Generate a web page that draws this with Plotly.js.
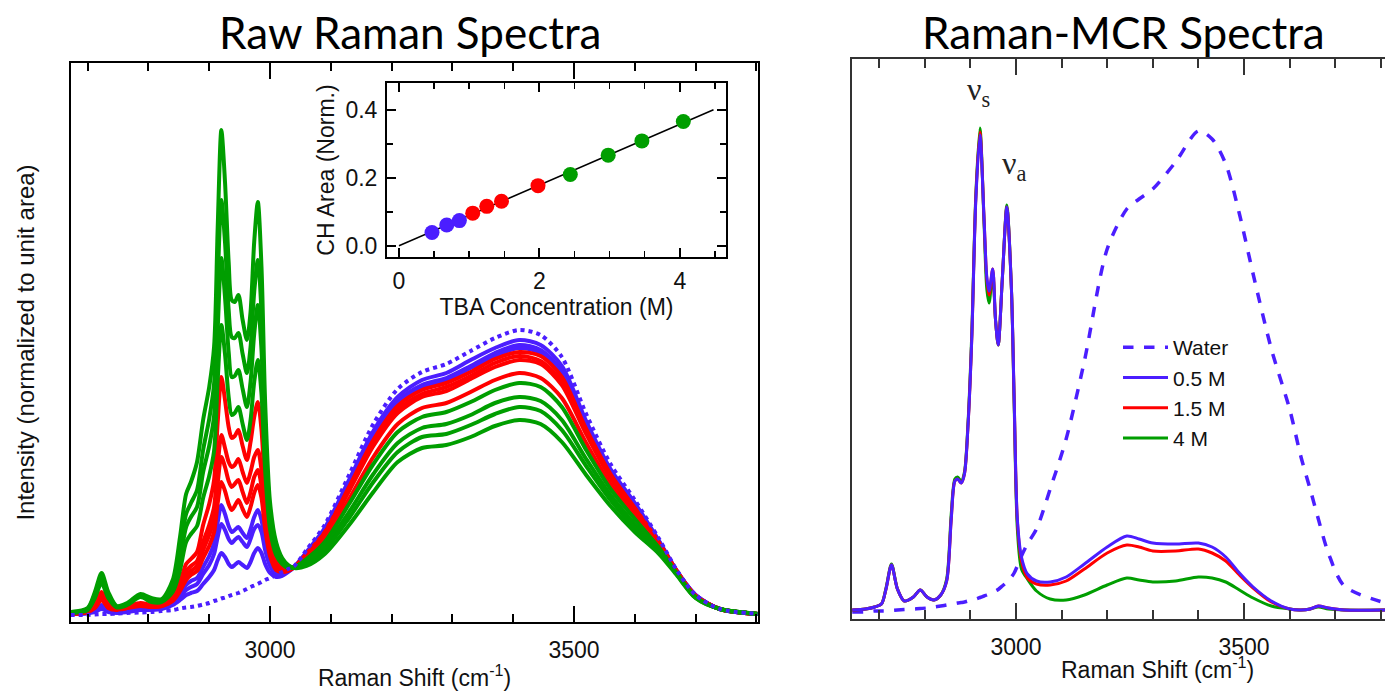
<!DOCTYPE html>
<html><head><meta charset="utf-8">
<script src="https://cdn.plot.ly/plotly-3.0.1.min.js"></script>
<style>html,body{margin:0;padding:0;background:#fff;}#chart{width:1385px;height:694px;}</style>
</head><body><div id="chart"></div>
<script>
// ---------- Left panel: raw Raman spectra (Raman shift, cm-1) ----------
const rawShift = [2672,2700,2712,2723,2734,2748,2765,2787,2805,2822,2840,2852,2862,2870,2880,2890,2900,2908,2914,2920,2926,2932,2937,2942,2948,2955,2962,2968,2974,2980,2986,2992,3000,3010,3020,3030,3040,3060,3090,3130,3170,3210,3250,3290,3330,3370,3410,3445,3480,3520,3560,3600,3640,3670,3700,3740,3805];
const rawWater = [0.07,0.07,0.075,0.08,0.08,0.085,0.09,0.095,0.10,0.11,0.12,0.135,0.145,0.15,0.16,0.175,0.19,0.21,0.22,0.235,0.245,0.26,0.27,0.28,0.29,0.31,0.33,0.35,0.365,0.38,0.40,0.42,0.44,0.47,0.50,0.53,0.56,0.72,0.97,1.47,1.98,2.33,2.50,2.58,2.71,2.84,2.92,2.87,2.65,2.08,1.58,1.22,0.83,0.51,0.27,0.13,0.08];
const rawB1 = [0.08,0.09,0.10,0.13,0.10,0.09,0.10,0.12,0.12,0.13,0.17,0.22,0.27,0.29,0.31,0.38,0.45,0.52,0.62,0.69,0.65,0.58,0.55,0.57,0.60,0.57,0.54,0.60,0.69,0.74,0.69,0.58,0.49,0.45,0.46,0.50,0.55,0.70,0.94,1.42,1.91,2.25,2.42,2.49,2.62,2.74,2.82,2.77,2.56,2.01,1.53,1.19,0.81,0.50,0.27,0.13,0.08];
const rawB2 = [0.08,0.09,0.11,0.15,0.11,0.10,0.11,0.13,0.13,0.14,0.18,0.25,0.32,0.35,0.38,0.48,0.57,0.68,0.85,0.98,0.92,0.83,0.79,0.82,0.85,0.80,0.75,0.83,0.93,0.97,0.90,0.72,0.56,0.47,0.47,0.51,0.55,0.69,0.92,1.39,1.86,2.21,2.37,2.44,2.56,2.69,2.77,2.72,2.51,1.98,1.51,1.17,0.80,0.50,0.27,0.13,0.08];
const rawB3 = [0.08,0.09,0.12,0.17,0.12,0.11,0.12,0.14,0.13,0.14,0.19,0.28,0.37,0.41,0.44,0.55,0.66,0.79,1.00,1.17,1.08,0.96,0.90,0.92,0.95,0.89,0.84,0.93,1.05,1.12,1.02,0.80,0.60,0.49,0.48,0.51,0.55,0.69,0.91,1.37,1.84,2.18,2.35,2.42,2.54,2.66,2.74,2.69,2.48,1.96,1.50,1.16,0.80,0.50,0.26,0.13,0.08];
const rawR1 = [0.08,0.10,0.14,0.22,0.14,0.12,0.14,0.16,0.15,0.16,0.21,0.31,0.42,0.47,0.51,0.64,0.76,0.90,1.19,1.40,1.31,1.18,1.12,1.16,1.22,1.13,1.05,1.15,1.29,1.37,1.24,0.93,0.66,0.52,0.50,0.51,0.55,0.68,0.90,1.35,1.82,2.16,2.32,2.39,2.50,2.63,2.70,2.66,2.45,1.93,1.48,1.14,0.79,0.50,0.26,0.13,0.08];
const rawR2 = [0.08,0.10,0.15,0.25,0.15,0.12,0.14,0.17,0.15,0.16,0.22,0.33,0.46,0.51,0.56,0.72,0.87,1.03,1.39,1.65,1.55,1.41,1.35,1.38,1.42,1.30,1.19,1.30,1.45,1.52,1.36,1.00,0.70,0.55,0.51,0.52,0.55,0.67,0.89,1.33,1.78,2.12,2.28,2.35,2.46,2.59,2.66,2.61,2.40,1.90,1.46,1.13,0.79,0.50,0.26,0.13,0.08];
const rawR3 = [0.08,0.10,0.16,0.27,0.16,0.13,0.15,0.18,0.16,0.17,0.23,0.36,0.51,0.56,0.61,0.80,0.97,1.15,1.56,1.87,1.74,1.60,1.55,1.57,1.63,1.50,1.39,1.50,1.65,1.72,1.52,1.10,0.75,0.57,0.52,0.52,0.55,0.67,0.87,1.31,1.76,2.09,2.25,2.31,2.43,2.55,2.62,2.58,2.37,1.88,1.44,1.11,0.78,0.49,0.26,0.13,0.08];
const rawR4 = [0.09,0.11,0.19,0.30,0.19,0.14,0.16,0.19,0.17,0.18,0.25,0.40,0.58,0.63,0.70,0.97,1.18,1.42,2.00,2.45,2.22,1.95,1.84,1.86,1.92,1.76,1.62,1.80,2.05,2.20,1.92,1.32,0.85,0.62,0.55,0.53,0.55,0.64,0.83,1.23,1.65,1.98,2.14,2.19,2.30,2.42,2.49,2.44,2.24,1.79,1.38,1.07,0.76,0.49,0.26,0.13,0.08];
const rawG1 = [0.09,0.12,0.24,0.39,0.24,0.145,0.17,0.25,0.20,0.20,0.30,0.52,0.80,0.88,0.96,1.24,1.46,1.71,2.42,2.97,2.68,2.25,2.07,2.09,2.15,1.98,1.82,2.02,2.40,2.62,2.28,1.52,0.93,0.67,0.58,0.54,0.55,0.63,0.80,1.18,1.58,1.90,2.05,2.10,2.20,2.32,2.39,2.35,2.15,1.72,1.33,1.03,0.74,0.48,0.25,0.13,0.08];
const rawG2 = [0.09,0.13,0.26,0.43,0.26,0.15,0.18,0.26,0.21,0.21,0.34,0.63,0.95,1.05,1.15,1.50,1.76,2.06,2.93,3.64,3.25,2.70,2.45,2.46,2.52,2.33,2.15,2.40,2.88,3.17,2.72,1.75,1.02,0.71,0.60,0.55,0.54,0.60,0.76,1.10,1.48,1.79,1.94,1.98,2.07,2.19,2.25,2.21,2.02,1.63,1.27,0.98,0.72,0.47,0.25,0.13,0.08];
const rawG3 = [0.10,0.13,0.28,0.46,0.28,0.155,0.18,0.27,0.22,0.22,0.38,0.72,1.08,1.19,1.32,1.72,2.03,2.38,3.40,4.22,3.80,3.12,2.85,2.84,2.89,2.68,2.49,2.75,3.30,3.62,3.10,1.95,1.10,0.75,0.62,0.56,0.54,0.58,0.72,1.04,1.40,1.70,1.85,1.88,1.97,2.08,2.15,2.11,1.92,1.56,1.22,0.94,0.70,0.47,0.24,0.13,0.08];
const rawG4 = [0.10,0.14,0.30,0.49,0.30,0.16,0.19,0.28,0.24,0.23,0.42,0.85,1.28,1.40,1.60,2.02,2.35,2.75,3.95,4.92,4.40,3.60,3.22,3.20,3.27,3.02,2.82,3.10,3.80,4.20,3.55,2.20,1.20,0.80,0.64,0.57,0.54,0.56,0.68,0.97,1.30,1.60,1.74,1.77,1.85,1.96,2.02,1.98,1.80,1.47,1.16,0.90,0.68,0.46,0.24,0.13,0.08];

// ---------- Inset: CH area vs TBA concentration ----------
const tbaConc = [0.47,0.68,0.86,1.05,1.25,1.46,1.98,2.44,2.98,3.46,4.05];
const chArea  = [0.039,0.061,0.074,0.096,0.116,0.131,0.177,0.210,0.267,0.309,0.366];
const chGroup = ['b','b','b','r','r','r','r','g','g','g','g'];
const fitConc = [0,4.48];
const fitArea = [0,0.401];

// ---------- Right panel: Raman-MCR spectra ----------
const mcrShift = [2641,2670,2690,2705,2715,2727,2740,2755,2775,2790,2805,2820,2835,2848,2858,2866,2872,2880,2887,2895,2903,2912,2921,2930,2936,2941,2949,2955,2961,2970,2980,2990,2996,3003,3012,3025,3045,3075,3110,3150,3200,3243,3270,3300,3350,3400,3430,3460,3490,3520,3560,3600,3625,3645,3663,3685,3720,3810];
const mcrWater = [0.07,0.07,0.08,0.08,0.08,0.085,0.09,0.095,0.10,0.105,0.11,0.12,0.13,0.14,0.15,0.155,0.16,0.165,0.17,0.18,0.19,0.20,0.215,0.23,0.24,0.25,0.265,0.28,0.295,0.33,0.37,0.42,0.46,0.53,0.63,0.75,0.90,1.30,1.80,2.58,3.70,4.10,4.20,4.30,4.57,4.88,4.80,4.55,4.05,3.45,2.70,2.10,1.62,1.30,1.00,0.66,0.33,0.16];
const mcr05 = [0.09,0.10,0.12,0.15,0.30,0.54,0.30,0.18,0.22,0.29,0.22,0.19,0.24,0.38,1.00,1.38,1.40,1.36,1.45,1.95,2.80,4.20,4.84,4.00,3.42,3.28,3.50,3.00,2.74,3.40,4.12,3.30,2.20,1.00,0.62,0.45,0.38,0.37,0.42,0.55,0.72,0.83,0.80,0.76,0.75,0.76,0.72,0.62,0.46,0.32,0.18,0.10,0.09,0.10,0.13,0.11,0.09,0.09];
const mcr15 = [0.09,0.10,0.12,0.15,0.30,0.54,0.30,0.18,0.22,0.29,0.22,0.19,0.24,0.38,1.00,1.38,1.40,1.36,1.45,1.95,2.80,4.22,4.87,4.00,3.40,3.24,3.50,3.00,2.74,3.40,4.12,3.30,2.20,0.98,0.58,0.41,0.35,0.34,0.38,0.50,0.66,0.74,0.72,0.68,0.68,0.70,0.66,0.58,0.44,0.31,0.17,0.10,0.09,0.10,0.13,0.11,0.09,0.09];
const mcr4  = [0.09,0.10,0.12,0.15,0.31,0.55,0.30,0.18,0.22,0.29,0.22,0.19,0.24,0.40,1.05,1.40,1.42,1.38,1.47,1.98,2.85,4.25,4.91,3.95,3.30,3.16,3.45,3.00,2.74,3.40,4.14,3.30,2.15,0.90,0.50,0.40,0.28,0.20,0.19,0.24,0.34,0.41,0.39,0.37,0.38,0.42,0.41,0.37,0.29,0.21,0.13,0.10,0.09,0.10,0.12,0.10,0.09,0.09];
const mcrNames = ['Water','0.5 M','1.5 M','4 M'];

const xTickVals = [3000,3500];

// sanity check on array lengths
[rawWater,rawB1,rawB2,rawB3,rawR1,rawR2,rawR3,rawR4,rawG1,rawG2,rawG3,rawG4].forEach((a,i)=>{ if(a.length!==rawShift.length) throw new Error('raw series '+i+' length '+a.length); });
[mcrWater,mcr05,mcr15,mcr4].forEach((a,i)=>{ if(a.length!==mcrShift.length) throw new Error('mcr series '+i+' length '+a.length); });

const BLUE = '#4B1EFF', RED = '#FF0000', GREEN = '#009E00';
const FONT = 'Liberation Sans, Arial, sans-serif';
const W = 1385, H = 694;
const px = v => v / W, py = v => (H - v) / H;

const traces = [];
function rawTrace(y, color, opts) {
  return Object.assign({ x: rawShift, y: y, type: 'scatter', mode: 'lines', xaxis: 'x', yaxis: 'y',
    line: { color: color, width: 4, shape: 'spline', smoothing: 0.8 }, showlegend: false, hoverinfo: 'skip' }, opts || {});
}
[rawB1, rawB2, rawB3].forEach(s => traces.push(rawTrace(s, BLUE)));
[rawR1, rawR2, rawR3, rawR4].forEach(s => traces.push(rawTrace(s, RED)));
[rawG1, rawG2, rawG3, rawG4].forEach(s => traces.push(rawTrace(s, GREEN)));
traces.push(rawTrace(rawWater, BLUE, { line: { color: BLUE, width: 4, dash: 'dot', shape: 'spline', smoothing: 0.8 } }));

// inset
traces.push({ x: fitConc, y: fitArea, type: 'scatter', mode: 'lines', xaxis: 'x2', yaxis: 'y2',
  line: { color: '#000', width: 1.5 }, showlegend: false, hoverinfo: 'skip' });
const groupColor = { b: BLUE, r: RED, g: GREEN };
traces.push({ x: tbaConc, y: chArea, type: 'scatter', mode: 'markers', xaxis: 'x2', yaxis: 'y2',
  marker: { size: 15, color: chGroup.map(g => groupColor[g]), line: { width: 0 } }, showlegend: false, hoverinfo: 'skip' });

// right panel
traces.push({ x: mcrShift, y: mcrWater, type: 'scatter', mode: 'lines', xaxis: 'x3', yaxis: 'y3', name: mcrNames[0], legendrank: 1,
  line: { color: BLUE, width: 3.5, dash: 'dash', shape: 'spline', smoothing: 0.8 } });
traces.push({ x: mcrShift, y: mcr4, type: 'scatter', mode: 'lines', xaxis: 'x3', yaxis: 'y3', name: mcrNames[3], legendrank: 4,
  line: { color: GREEN, width: 3, shape: 'spline', smoothing: 0.8 } });
traces.push({ x: mcrShift, y: mcr15, type: 'scatter', mode: 'lines', xaxis: 'x3', yaxis: 'y3', name: mcrNames[2], legendrank: 3,
  line: { color: RED, width: 3, shape: 'spline', smoothing: 0.8 } });
traces.push({ x: mcrShift, y: mcr05, type: 'scatter', mode: 'lines', xaxis: 'x3', yaxis: 'y3', name: mcrNames[1], legendrank: 2,
  line: { color: BLUE, width: 3, shape: 'spline', smoothing: 0.8 } });

const tickFont = { family: FONT, size: 23, color: '#111' };
const layout = {
  width: W, height: H, margin: { l: 0, r: 0, t: 0, b: 0 }, paper_bgcolor: '#fff', plot_bgcolor: 'rgba(0,0,0,0)',
  showlegend: true,
  legend: { x: px(1118), y: py(327), xanchor: 'left', yanchor: 'top', bgcolor: 'rgba(0,0,0,0)',
    font: { family: FONT, size: 21, color: '#111' }, tracegroupgap: 0, traceorder: 'normal', itemwidth: 45 },
  xaxis: { domain: [px(71), px(758)], range: [2672.7, 3802.6], anchor: 'y',
    showline: true, linecolor: '#000', linewidth: 2, mirror: 'ticks', zeroline: false, showgrid: false,
    tickmode: 'array', tickvals: xTickVals, ticks: 'inside', ticklen: 16, tickwidth: 2, tickcolor: '#000',
    minor: { dtick: 100, tick0: 2700, ticks: 'inside', ticklen: 8, tickwidth: 2, tickcolor: '#000', showgrid: false },
    tickfont: tickFont, ticklabelstandoff: 6,
    title: { text: 'Raman Shift (cm<sup>-1</sup>)', font: { family: FONT, size: 23, color: '#111' }, standoff: 8 } },
  yaxis: { domain: [py(622), py(63)], range: [0, 5.59], anchor: 'x',
    showline: true, linecolor: '#000', linewidth: 2, mirror: true, zeroline: false, showgrid: false,
    ticks: '', showticklabels: false,
    title: { text: 'Intensity (normalized to unit area)', font: { family: FONT, size: 24, color: '#111' }, standoff: 28 } },
  xaxis2: { domain: [px(387), px(726)], range: [-0.171, 4.658], anchor: 'y2',
    showline: true, linecolor: '#000', linewidth: 2, mirror: 'ticks', zeroline: false, showgrid: false,
    tickmode: 'linear', tick0: 0, dtick: 2, ticks: 'inside', ticklen: 9, tickwidth: 2, tickcolor: '#000',
    minor: { dtick: 0.5, tick0: 0, ticks: 'inside', ticklen: 6, tickwidth: 1.5, tickcolor: '#000', showgrid: false },
    tickfont: tickFont, ticklabelstandoff: 2,
    title: { text: 'TBA Concentration (M)', font: { family: FONT, size: 23, color: '#111' }, standoff: 4 } },
  yaxis2: { domain: [py(257), py(83)], range: [-0.0333, 0.4797], anchor: 'x2',
    showline: true, linecolor: '#000', linewidth: 2, mirror: 'ticks', zeroline: false, showgrid: false,
    tickmode: 'linear', tick0: 0, dtick: 0.2, tickformat: '.1f', ticks: 'inside', ticklen: 9, tickwidth: 2, tickcolor: '#000',
    minor: { dtick: 0.1, tick0: 0, ticks: 'inside', ticklen: 6, tickwidth: 1.5, tickcolor: '#000', showgrid: false },
    tickfont: tickFont, ticklabelstandoff: 3,
    title: { text: 'CH Area (Norm.)', font: { family: FONT, size: 23, color: '#111' }, standoff: 4 } },
  xaxis3: { domain: [px(852), 1], range: [2640.4, 3809.2], anchor: 'y3',
    showline: true, linecolor: '#333', linewidth: 2, mirror: 'ticks', zeroline: false, showgrid: false,
    tickmode: 'array', tickvals: xTickVals, ticks: 'inside', ticklen: 16, tickwidth: 2, tickcolor: '#333',
    minor: { dtick: 100, tick0: 2700, ticks: 'inside', ticklen: 9, tickwidth: 2, tickcolor: '#333', showgrid: false },
    tickfont: tickFont, ticklabelstandoff: 6 },
  yaxis3: { domain: [py(619), py(59)], range: [0, 5.60], anchor: 'x3',
    showline: true, linecolor: '#333', linewidth: 2, mirror: false, zeroline: false, showgrid: false,
    ticks: '', showticklabels: false },
  annotations: [
    { text: 'Raw Raman Spectra', xref: 'paper', yref: 'paper', x: px(410), y: py(32), xanchor: 'center', yanchor: 'middle',
      showarrow: false, font: { family: 'Lato, Carlito, sans-serif', size: 44, color: '#000' } },
    { text: 'Raman-MCR Spectra', xref: 'paper', yref: 'paper', x: px(1123), y: py(32), xanchor: 'center', yanchor: 'middle',
      showarrow: false, font: { family: 'Lato, Carlito, sans-serif', size: 44, color: '#000' } },
    { text: 'Raman Shift (cm<sup>-1</sup>)', xref: 'paper', yref: 'paper', x: px(1157), y: py(668), xanchor: 'center', yanchor: 'middle',
      showarrow: false, font: { family: FONT, size: 23, color: '#111' } },
    { text: 'ν<sub>s</sub>', xref: 'x3', yref: 'y3', x: 2918, y: 5.28, xanchor: 'center', yanchor: 'middle',
      showarrow: false, font: { family: 'Liberation Serif, serif', size: 32, color: '#222' } },
    { text: 'ν<sub>a</sub>', xref: 'x3', yref: 'y3', x: 2995, y: 4.54, xanchor: 'center', yanchor: 'middle',
      showarrow: false, font: { family: 'Liberation Serif, serif', size: 32, color: '#222' } }
  ]
};

Plotly.newPlot('chart', traces, layout, { staticPlot: true, displayModeBar: false });
</script>
</body></html>
